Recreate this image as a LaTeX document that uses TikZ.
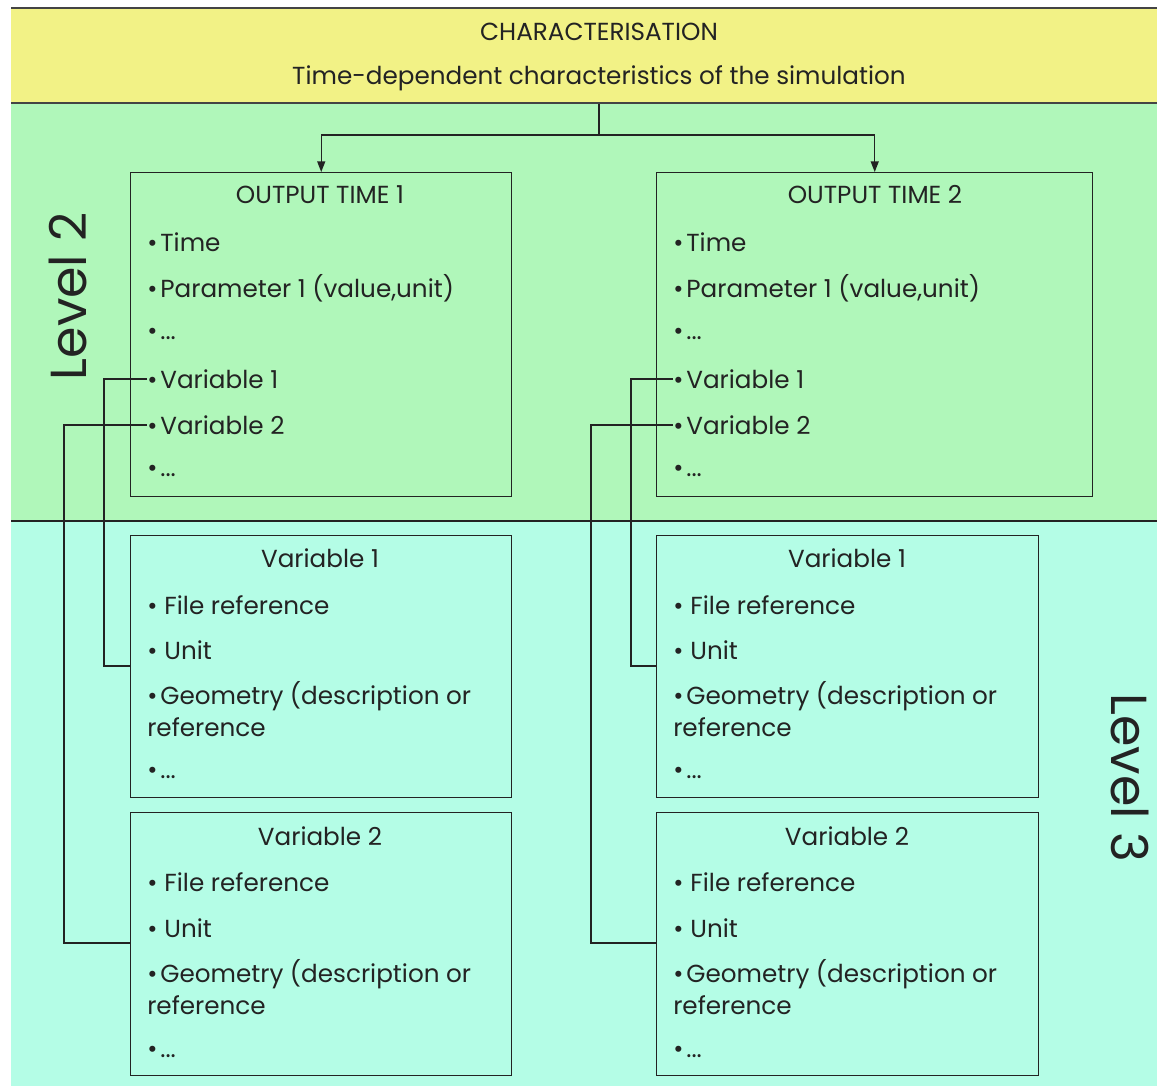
\documentclass[tikz,border=0pt]{standalone}
\usepackage{fontspec}
\setmainfont{Poppins}
\usetikzlibrary{arrows.meta}
\definecolor{bandyellow}{RGB}{242,242,134}
\definecolor{bandgreen}{RGB}{176,247,186}
\definecolor{bandcyan}{RGB}{180,253,230}
\definecolor{ink}{RGB}{35,35,35}
\newcommand{\bul}{\textbullet\hspace{0.12em}}
\begin{document}
\begin{tikzpicture}[x=0.75pt,y=-0.75pt,
  every node/.style={text=ink, inner sep=0pt},
  body/.style={font=\fontsize{18.5}{22}\selectfont},
  item/.style={body, anchor=west},
  title/.style={body},
  lvl/.style={font=\fontsize{38}{44}\selectfont},
  box/.style={draw=ink, line width=1.1pt, anchor=north west},
  wire/.style={draw=ink, line width=1pt},
  rule/.style={draw=ink!85, line width=1.5pt},
  tip/.style={-{Triangle[width=6pt,length=8pt]}}]
\useasboundingbox (0,0) rectangle (1157,1086);

% background bands
\fill[bandcyan] (11,521) rectangle (1157,1086);
\fill[bandgreen] (11,103) rectangle (1157,521);
\node[fill=bandyellow, anchor=north west, minimum width=859.5pt, minimum height=71.25pt] (head) at (11,8) {};
\draw[rule] (11,8) -- (1157,8);
\draw[rule] (11,103) -- (1157,103);
\draw[wire] (11,521) -- (1157,521);

% header texts
\node[title] (ttlA) at (599,32) {CHARACTERISATION};
\node[title] (ttlB) at (599,78) {Time-dependent characteristics of the simulation};

% level labels
\node[lvl, rotate=90] (lev2) at (68,296) {Level 2};
\node[lvl, rotate=-90] (lev3) at (1130,778) {Level 3};

% level 2 boxes
\node[box, minimum width=285.75pt, minimum height=243pt] (ot1) at (130,172) {};
\node[box, minimum width=327pt, minimum height=243pt] (ot2) at (656,172) {};

% level 3 boxes
\node[box, minimum width=285.75pt, minimum height=196.5pt] (la) at (130,535) {};
\node[box, minimum width=285.75pt, minimum height=197.25pt] (lb) at (130,812) {};
\node[box, minimum width=286.5pt, minimum height=196.5pt] (ra) at (656,535) {};
\node[box, minimum width=286.5pt, minimum height=197.25pt] (rb) at (656,812) {};

% output time 1
\node[title] at (320,195) {OUTPUT TIME 1};
\node[item] (o1t) at (147,242) {\bul Time};
\node[item] (o1p) at (147,288) {\bul Parameter 1 (value,unit)};
\node[item] (o1d) at (147,334) {\bul ...};
\node[item] (o1v1) at (147,379) {\bul Variable 1};
\node[item] (o1v2) at (147,425) {\bul Variable 2};
\node[item] (o1e) at (147,471) {\bul ...};

% output time 2
\node[title] at (875,195) {OUTPUT TIME 2};
\node[item] (o2t) at (673,242) {\bul Time};
\node[item] (o2p) at (673,288) {\bul Parameter 1 (value,unit)};
\node[item] (o2d) at (673,334) {\bul ...};
\node[item] (o2v1) at (673,379) {\bul Variable 1};
\node[item] (o2v2) at (673,425) {\bul Variable 2};
\node[item] (o2e) at (673,471) {\bul ...};

% variable boxes, left column
\node[title] at (320,558) {Variable 1};
\node[item] at (147,605) {\bul\,File reference};
\node[item] (laU) at (147,650) {\bul\,Unit};
\node[item] at (147,696) {\bul Geometry (description or};
\node[item] at (147,727) {reference};
\node[item] at (147,773) {\bul ...};

\node[title] at (320,836) {Variable 2};
\node[item] at (147,882) {\bul\,File reference};
\node[item] (lbU) at (147,928) {\bul\,Unit};
\node[item] at (147,974) {\bul Geometry (description or};
\node[item] at (147,1005) {reference};
\node[item] at (147,1052) {\bul ...};

% variable boxes, right column
\node[title] at (847,558) {Variable 1};
\node[item] at (673,605) {\bul\,File reference};
\node[item] (raU) at (673,650) {\bul\,Unit};
\node[item] at (673,696) {\bul Geometry (description or};
\node[item] at (673,727) {reference};
\node[item] at (673,773) {\bul ...};

\node[title] at (847,836) {Variable 2};
\node[item] at (673,882) {\bul\,File reference};
\node[item] (rbU) at (673,928) {\bul\,Unit};
\node[item] at (673,974) {\bul Geometry (description or};
\node[item] at (673,1005) {reference};
\node[item] at (673,1052) {\bul ...};

% header to output times
\coordinate (split) at (599,135);
\draw[wire] (head.south -| ttlA) -- (split);
\draw[wire, tip] (split) -| (ot1.north);
\draw[wire, tip] (split) -| (ot2.north);

% variable links
\coordinate (k1) at (104,666);
\coordinate (k2) at (64,943);
\coordinate (k3) at (631,666);
\coordinate (k4) at (591,943);
\draw[wire] (o1v1.west) -| (k1) -- (k1 -| la.west);
\draw[wire] (o1v2.west) -| (k2) -- (k2 -| lb.west);
\draw[wire] (o2v1.west) -| (k3) -- (k3 -| ra.west);
\draw[wire] (o2v2.west) -| (k4) -- (k4 -| rb.west);
\end{tikzpicture}
\end{document}
